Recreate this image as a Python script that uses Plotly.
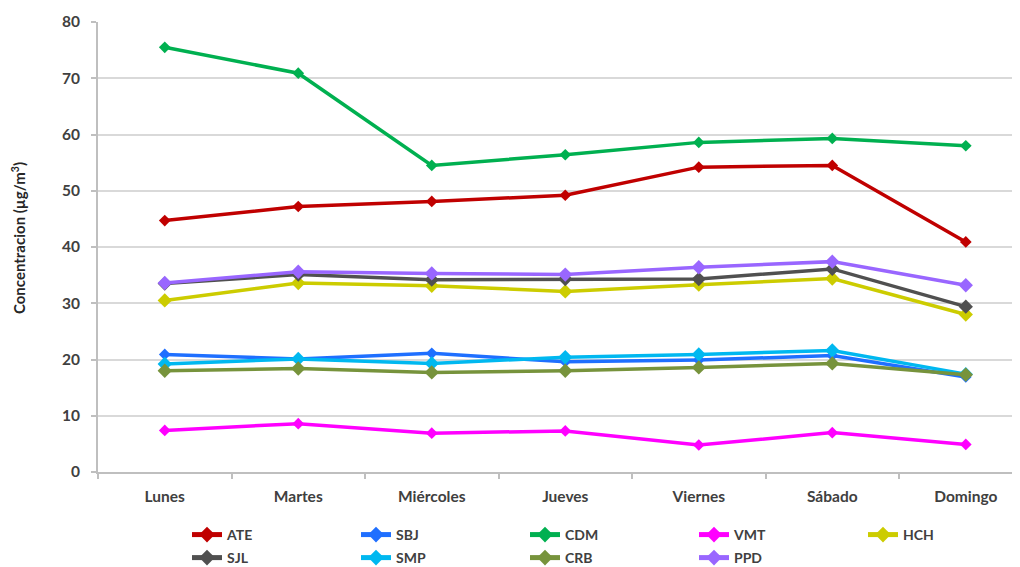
import plotly.graph_objects as go

dias = ["Lunes", "Martes", "Miércoles", "Jueves", "Viernes", "Sábado", "Domingo"]

ATE = [44.7, 47.2, 48.1, 49.2, 54.2, 54.5, 40.9]
SBJ = [20.9, 20.1, 21.1, 19.6, 19.9, 20.7, 16.9]
CDM = [75.5, 70.9, 54.5, 56.4, 58.6, 59.3, 58.0]
VMT = [7.4, 8.6, 6.9, 7.3, 4.8, 7.0, 4.9]
HCH = [30.5, 33.6, 33.1, 32.1, 33.3, 34.4, 28.0]
SJL = [33.5, 35.1, 34.2, 34.3, 34.3, 36.1, 29.4]
SMP = [19.2, 20.1, 19.3, 20.4, 20.9, 21.6, 17.4]
CRB = [18.0, 18.4, 17.7, 18.0, 18.6, 19.3, 17.3]
PPD = [33.6, 35.6, 35.3, 35.1, 36.4, 37.4, 33.2]

series = [
    ("ATE", ATE, "#C00000", 9, "legend"),
    ("SBJ", SBJ, "#1F6FFF", 9, "legend"),
    ("CDM", CDM, "#00B050", 9, "legend"),
    ("VMT", VMT, "#FF00FF", 9, "legend"),
    ("HCH", HCH, "#CCCC00", 11, "legend"),
    ("SJL", SJL, "#505050", 11, "legend2"),
    ("SMP", SMP, "#00B8F0", 11, "legend2"),
    ("CRB", CRB, "#77933C", 11, "legend2"),
    ("PPD", PPD, "#9966FF", 11, "legend2"),
]

FONT = "Lato"

fig = go.Figure()
for name, vals, color, msize, leg in series:
    fig.add_trace(go.Scatter(
        x=dias, y=vals, name=name, mode="lines+markers",
        line=dict(color=color, width=3.5),
        marker=dict(symbol="diamond", size=msize, color=color),
        legend=leg,
    ))

legend_common = dict(
    orientation="h", xref="container", yref="container",
    xanchor="left", yanchor="top",
    entrywidth=124, tracegroupgap=0, itemsizing="constant",
    font=dict(family=FONT, size=14, color="#404040", weight="bold"),
    bgcolor="rgba(0,0,0,0)",
)

fig.update_layout(
    width=1020, height=567,
    margin=dict(l=90, r=0, t=14, b=103),
    paper_bgcolor="white", plot_bgcolor="white",
    font=dict(family=FONT, color="#404040"),
    showlegend=True,
    legend=dict(legend_common, x=0.1755, y=0.0988),
    legend2=dict(legend_common, x=0.1755, y=0.0582),
    xaxis=dict(
        type="category", range=[-0.5, 6.466], automargin=False,
        showline=True, linecolor="#BFBFBF", linewidth=2,
        showgrid=False, ticks="outside", ticklen=5, tickcolor="#BFBFBF",
        tickson="boundaries", tickwidth=1.5, ticklabelstandoff=9,
        tickfont=dict(family=FONT, size=15.5, color="#404040", weight="bold"),
        zeroline=False,
    ),
    yaxis=dict(
        range=[0, 80], dtick=10, automargin=False,
        showline=True, linecolor="#BFBFBF", linewidth=2,
        showgrid=True, gridcolor="#D9D9D9", gridwidth=1.5,
        ticks="outside", ticklen=5, tickcolor="#BFBFBF", tickwidth=1.5,
        ticklabelstandoff=8,
        tickfont=dict(family=FONT, size=15.5, color="#404040", weight="bold"),
        zeroline=False,
    ),
    annotations=[dict(
        text="Concentracion (µg/m<sup>3</sup>)", textangle=-90,
        xref="paper", yref="paper", x=-0.086, y=0.52,
        xanchor="center", yanchor="middle", showarrow=False,
        font=dict(family=FONT, size=15, color="#262626", weight="bold"),
    )],
)

fig.write_html("out.html")
